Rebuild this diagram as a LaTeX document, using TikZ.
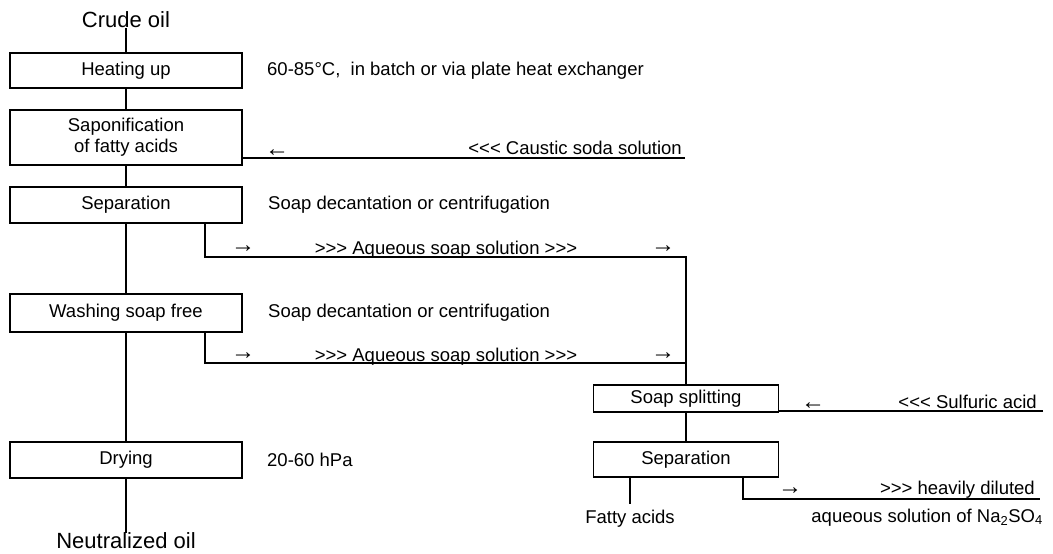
\documentclass[tikz,border=0pt]{standalone}
\usepackage{fontspec}
\setmainfont{Liberation Sans}[Ligatures=TeXOff]
\usetikzlibrary{positioning}

\begin{document}
\begin{tikzpicture}[
  x=1pt,y=-1pt,
  font=\fontsize{18.5}{21}\selectfont,
  stage/.style={draw,line width=2.4pt,minimum width=232pt,align=center,inner sep=0pt},
  sub/.style={draw,line width=1.3pt,minimum width=185pt,align=center,inner sep=0pt},
  flow/.style={line width=2pt},
  feed/.style={line width=1.5pt},
  note/.style={anchor=west,inner sep=0pt},
  tag/.style={anchor=base east,inner sep=0pt},
  glyph/.style={font=\fontsize{24}{24}\selectfont,inner sep=0pt},
  big/.style={font=\fontsize{22}{24}\selectfont,inner sep=0pt},
]
\useasboundingbox (0,0) rectangle (1053,554);
% main line
\node[big] (crude) at (126,20) {Crude oil};
\node[stage,minimum height=35pt] (heat) at (126,70.5) {Heating up};
\node[stage,minimum height=55pt] (sapon) at (126,137.5) {Saponification\\of fatty acids};
\node[stage,minimum height=36pt] (sep) at (126,205) {Separation};
\node[stage,minimum height=38pt] (wash) at (126,313) {Washing soap free};
\node[stage,minimum height=36pt] (dry) at (126,460) {Drying};
\node[big] (neut) at (126,541) {Neutralized oil};
\draw[flow] (crude) -- (heat) -- (sapon) -- (sep) -- (wash) -- (dry) -- (neut);
\node[note] (nHeat) at (267,71) {60-85°C,\ \ in batch or via plate heat exchanger};
\node[note] (nSep) at (268,205) {Soap decantation or centrifugation};
\node[note] (nWash) at (268,313) {Soap decantation or centrifugation};
\node[note] (nDry) at (267,460) {20-60 hPa};
% caustic soda feed
\coordinate (c1) at (685,158);
\draw[feed] (c1) -- (c1 -| sapon.east);
\node[glyph] (cArr) at (277,153) {←};
\node[tag] (cTxt) at (682,154) {<<< Caustic soda solution};
% soap splitting branch
\node[sub,minimum height=27pt] (split) at (686,398.5) {Soap splitting};
\node[sub,minimum height=35pt] (sep2) at (686,459.5) {Separation};
\draw[feed] (split) -- (sep2);
\coordinate (b1) at (205,257);
\coordinate (b2) at (205,363);
\draw[feed] (sep.south -| b1) -- (b1) -- (b1 -| split.north) -- (split.north);
\draw[feed] (wash.south -| b2) -- (b2) -- (b2 -| split.north);
\node[glyph] (a1) at (243,249) {→};
\node[glyph] (a2) at (663,249) {→};
\node[anchor=base,inner sep=0pt] (aq1) at (446,254) {>>> Aqueous soap solution >>>};
\node[glyph] (a3) at (243,356) {→};
\node[glyph] (a4) at (663,356) {→};
\node[anchor=base,inner sep=0pt] (aq2) at (446,361) {>>> Aqueous soap solution >>>};
% sulfuric acid feed
\coordinate (s1) at (1043,411);
\draw[feed] (s1) -- (s1 -| split.east);
\node[glyph] (sArr) at (813,406) {←};
\node[tag] (sTxt) at (1037,408) {<<< Sulfuric acid};
% products
\node[anchor=base,inner ysep=5pt,inner xsep=0pt] (fatty) at (630,523) {Fatty acids};
\draw[feed] (sep2.south -| fatty) -- (fatty);
\coordinate (h0) at (743,499);
\coordinate (h1) at (1040,499);
\draw[feed] (sep2.south -| h0) -- (h0) -- (h1);
\node[glyph] (hArr) at (790,491) {→};
\node[tag] (hTxt) at (1035,494) {>>> heavily diluted};
\node[tag] (naTxt) at (1043,522) {aqueous solution of Na\textsubscript{2}SO\textsubscript{4}};
\end{tikzpicture}
\end{document}
